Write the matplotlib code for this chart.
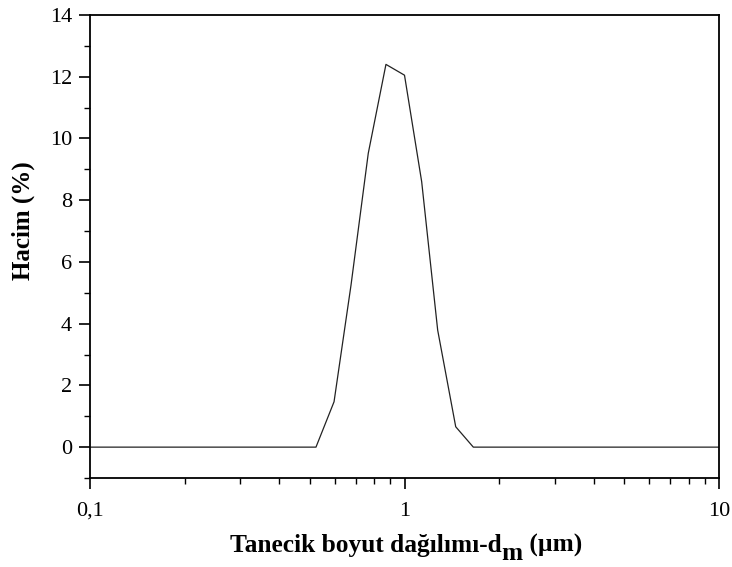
import matplotlib.pyplot as plt
from matplotlib.ticker import FixedLocator, LogLocator, NullFormatter, MultipleLocator

# particle size distribution
size_um = [0.1, 0.523, 0.597, 0.676, 0.767, 0.873, 1.0, 1.134, 1.275, 1.455, 1.655, 10.0]
volume_pct = [0.0, 0.0, 1.47, 5.25, 9.52, 12.40, 12.05, 8.6, 3.79, 0.66, 0.0, 0.0]

x_ticks = [0.1, 1, 10]
x_ticklabels = ['0,1', '1', '10']
y_ticks = [0, 2, 4, 6, 8, 10, 12, 14]

plt.rcParams['font.family'] = ['Liberation Serif', 'DejaVu Serif']

W, H = 732, 567
fig = plt.figure(figsize=(W / 100, H / 100), dpi=100)
ax = fig.add_axes([90 / W, 89 / H, 629 / W, 463 / H])

ax.plot(size_um, volume_pct, color='#222222', lw=0.9)

ax.set_xscale('log')
ax.set_xlim(0.1, 10)
ax.set_ylim(-1, 14)

ax.xaxis.set_major_locator(FixedLocator(x_ticks))
ax.set_xticklabels(x_ticklabels)
ax.xaxis.set_minor_locator(LogLocator(base=10, subs=range(2, 10)))
ax.xaxis.set_minor_formatter(NullFormatter())
ax.set_yticks(y_ticks)
ax.yaxis.set_minor_locator(MultipleLocator(1))

for s in ax.spines.values():
    s.set_linewidth(1.3)
ax.tick_params(which='major', direction='out', length=8, width=1.2, labelsize=16,
               top=False, right=False)
ax.tick_params(which='minor', direction='out', length=4, width=1.0, top=False, right=False)
ax.tick_params(axis='x', pad=9)
ax.tick_params(axis='y', pad=5)

ax.set_ylabel('Hacim (%)', fontsize=18, fontweight='bold')
ax.yaxis.set_label_coords(-55 / 629, 0.555)

# x label with a full-size, lowered subscript
lab = dict(fontsize=18.3, fontweight='bold', va='baseline', ha='left')
r = fig.canvas.get_renderer()
base = 15 / H
t1 = fig.text(230 / W, base, 'Tanecik boyut dağılımı-d', **lab)
bb = t1.get_window_extent(r)
t2 = fig.text(bb.x1 / W, base - 8 / H, 'm', **lab)
bb = t2.get_window_extent(r)
fig.text(bb.x1 / W, base, ' (µm)', **lab)

fig.savefig('out.png', dpi=100)
